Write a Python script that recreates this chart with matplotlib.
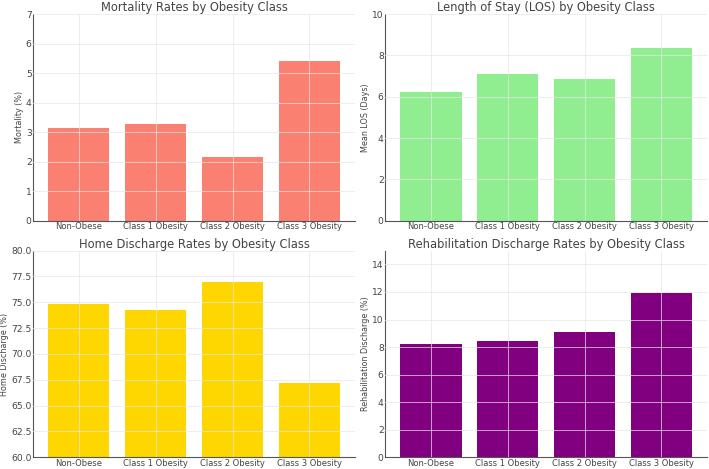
"""Four bar panels: outcomes by obesity class."""

import matplotlib.pyplot as plt
import numpy as np

categories = ["Non-Obese", "Class 1 Obesity", "Class 2 Obesity", "Class 3 Obesity"]
mortality = [3.15, 3.26, 2.15, 5.40]
los = [6.22, 7.12, 6.88, 8.38]
home_discharge = [74.8, 74.3, 77.0, 67.2]
rehab_discharge = [8.2, 8.45, 9.1, 11.95]

panels = [
    (mortality, "Mortality Rates by Obesity Class", "Mortality (%)", "salmon", (0, 7), np.arange(0, 8, 1), "{:.0f}"),
    (los, "Length of Stay (LOS) by Obesity Class", "Mean LOS (Days)", "lightgreen", (0, 10), np.arange(0, 11, 2), "{:.0f}"),
    (home_discharge, "Home Discharge Rates by Obesity Class", "Home Discharge (%)", "gold", (60, 80), np.arange(60, 80.1, 2.5), "{:.1f}"),
    (rehab_discharge, "Rehabilitation Discharge Rates by Obesity Class", "Rehabilitation Discharge (%)", "purple", (0, 15), np.arange(0, 15, 2), "{:.0f}"),
]

TEXT = "#444444"


def main() -> None:
    fig, axes = plt.subplots(2, 2, figsize=(7.09, 4.69), dpi=100)
    fig.subplots_adjust(left=0.047, right=0.997, top=0.97, bottom=0.025, wspace=0.095, hspace=0.145)
    for ax, (values, title, ylabel, color, ylim, ticks, fmt) in zip(axes.flat, panels):
        x = np.arange(len(categories))
        ax.bar(x, values, color=color, width=0.8)
        ax.set_xticks(x)
        ax.set_xticklabels(categories, fontsize=6.0, color=TEXT)
        ax.set_ylim(*ylim)
        ax.set_yticks(ticks)
        ax.set_yticklabels([fmt.format(t) for t in ticks], fontsize=6.6, color=TEXT)
        ax.set_ylabel(ylabel, fontsize=5.8, color=TEXT, labelpad=1.5)
        ax.set_title(title, fontsize=8.3, color=TEXT, pad=2)
        ax.set_axisbelow(False)
        ax.grid(True, color="#e6e6e6", linewidth=0.7, alpha=0.7)
        for side in ("top", "right"):
            ax.spines[side].set_visible(False)
        for side in ("left", "bottom"):
            ax.spines[side].set_color("#555555")
            ax.spines[side].set_linewidth(0.8)
        ax.tick_params(length=0, pad=1.2)
    fig.savefig("out.png", dpi=100)


if __name__ == "__main__":
    main()
